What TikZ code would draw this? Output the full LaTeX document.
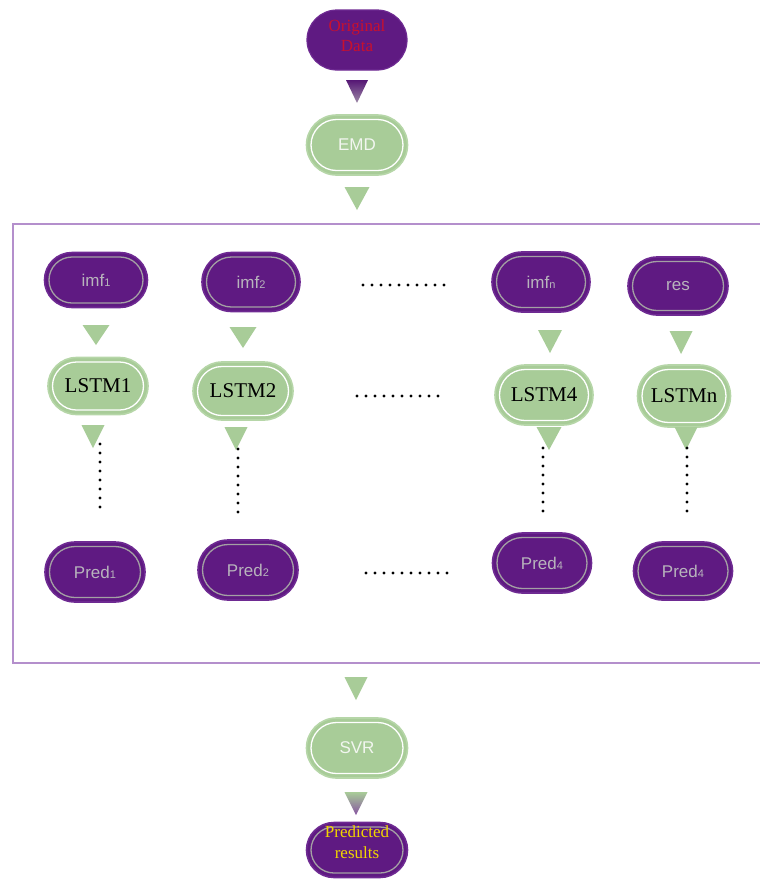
\documentclass[tikz,border=0pt]{standalone}
\usepackage{fontspec}
\setmainfont{Liberation Serif}
\newfontfamily\arialf{Liberation Sans}
\usetikzlibrary{shapes.misc}
\definecolor{pfill}{HTML}{5F1A82}
\definecolor{pedge}{HTML}{6E2A92}
\definecolor{pin}{HTML}{A4A0A4}
\definecolor{ptext}{HTML}{B8B4BC}
\definecolor{gfill}{HTML}{A8CC98}
\definecolor{gedge}{HTML}{B6D6A8}
\definecolor{frame}{HTML}{B48FCC}
\definecolor{redt}{HTML}{C8102E}
\definecolor{yellowt}{HTML}{F2D500}
\definecolor{emdt}{HTML}{F2F6F0}
\tikzset{
  stad/.style={rounded rectangle, inner sep=0pt, align=center},
  purp/.style={stad, fill=pfill, draw=pedge, line width=1.6pt, text=ptext,
    font=\arialf\fontsize{17}{20}\selectfont},
  purpin/.style={stad, draw=pin, line width=1.3pt},
  grn/.style={stad, fill=gfill, draw=gedge, line width=1.6pt, text=black,
    font=\fontsize{21}{24}\selectfont},
  grnin/.style={stad, draw=white, line width=1.3pt},
  gtri/.style={fill=gfill},
  ptri/.style={top color=pfill!90!black, bottom color=pfill!40!gray!70!white},
  gptri/.style={top color=gfill, bottom color=pfill!75!white},
  dotl/.style={line width=3.4pt, line cap=round, dash pattern=on 0pt off 9pt, black},
  frameline/.style={draw=frame, line width=2pt}
}
\newcommand\stadnode[7]{%
  \node[#1, minimum width=#5pt, minimum height=#6pt] (#2) at (#3,#4) {#7};
  \node[#1in, minimum width=#5pt-9pt, minimum height=#6pt-9pt] (#2-in) at (#2.center) {};}
\newcommand\dtri[5]{\path[#5] (#1-#3/2,#2) -- (#1+#3/2,#2) -- (#1,#2+#4) -- cycle;}
\newcommand\sbs[1]{{\fontsize{11}{11}\selectfont #1}}
\begin{document}
\begin{tikzpicture}[x=1pt,y=-1pt]
\useasboundingbox (0,0) rectangle (760,879);
% frame
\draw[frameline] (760,224) -- (13,224) -- (13,663) -- (760,663);
% top
\node[stad, fill=pfill, draw=pedge, line width=1.2pt, minimum width=100pt, minimum height=60pt] (orig) at (357,40) {};
\node[font=\fontsize{17}{20}\selectfont, text=redt, align=center] (origtxt) at (357,36) {Original\\Data};
\dtri{357}{80}{22}{23}{ptri}
\stadnode{grn}{emd}{357}{145}{101}{60}{\arialf\color{emdt}\fontsize{17}{20}\selectfont EMD}
\dtri{357}{187}{25}{23}{gtri}
% imf row
\stadnode{purp}{imf1}{96}{280}{103}{55}{imf\sbs{1}}
\stadnode{purp}{imf2}{251}{282}{98}{59}{imf\sbs{2}}
\stadnode{purp}{imfn}{541}{282}{98}{60}{imf\sbs{n}}
\stadnode{purp}{res}{678}{286}{100}{58}{res}
\draw[dotl] (363,285) -- (445,285);
% triangles
\dtri{96}{325}{27}{20}{gtri}
\dtri{243}{327}{27}{21}{gtri}
\dtri{550}{330}{24}{23}{gtri}
\dtri{681}{331}{23}{23}{gtri}
% LSTM row
\stadnode{grn}{lstm1}{98}{386}{100}{57}{LSTM1}
\stadnode{grn}{lstm2}{243}{391}{100}{58}{LSTM2}
\stadnode{grn}{lstm4}{544}{395}{98}{60}{LSTM4}
\stadnode{grn}{lstmn}{684}{396}{93}{62}{LSTMn}
\draw[dotl] (357,396) -- (439,396);
% triangles below LSTM
\dtri{93}{425}{23}{23}{gtri}
\dtri{236}{427}{23}{23}{gtri}
\dtri{549}{427}{25}{23}{gtri}
\dtri{686}{427}{23}{23}{gtri}
% vertical dots
\coordinate (d1a) at (100,444); \coordinate (d1b) at (100,508);
\coordinate (d2a) at (238,449); \coordinate (d2b) at (238,513);
\coordinate (d3a) at (543,448); \coordinate (d3b) at (543,512);
\coordinate (d4a) at (687,448); \coordinate (d4b) at (687,512);
\draw[dotl] (d1a) -- (d1b);
\draw[dotl] (d2a) -- (d2b);
\draw[dotl] (d3a) -- (d3b);
\draw[dotl] (d4a) -- (d4b);
% Pred row
\stadnode{purp}{pred1}{95}{572}{100}{60}{Pred\sbs{1}}
\stadnode{purp}{pred2}{248}{570}{100}{60}{Pred\sbs{2}}
\stadnode{purp}{pred4a}{542}{563}{99}{60}{Pred\sbs{4}}
\stadnode{purp}{pred4b}{683}{571}{99}{58}{Pred\sbs{4}}
\draw[dotl] (366,573) -- (448,573);
% bottom
\dtri{356}{677}{23}{23}{gtri}
\stadnode{grn}{svr}{357}{748}{101}{60}{\arialf\color{emdt}\fontsize{17}{20}\selectfont SVR}
\dtri{356}{792}{23}{23}{gptri}
\stadnode{purp}{pred}{357}{850}{101}{55}{}
\node[font=\fontsize{17}{21}\selectfont, text=yellowt, align=center] (predtxt) at (357,842) {Predicted\\results};
\end{tikzpicture}
\end{document}
